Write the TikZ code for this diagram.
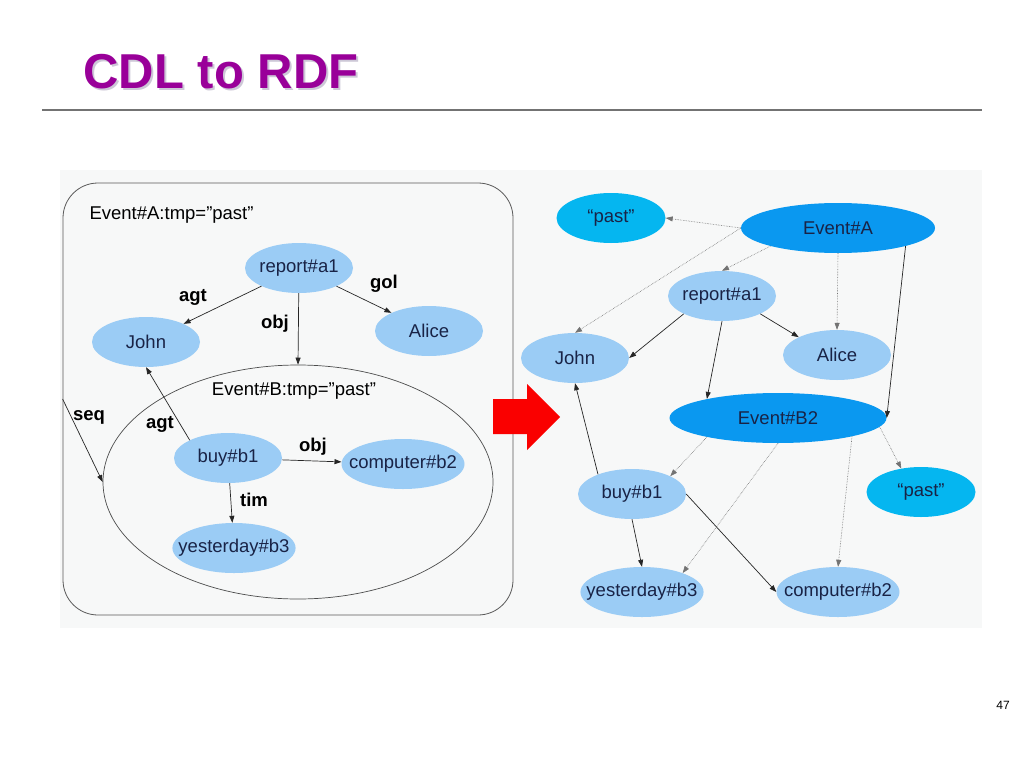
\documentclass[tikz,border=0pt]{standalone}
\usepackage{fontspec}
\setmainfont{Liberation Sans}
\usetikzlibrary{shapes.geometric,arrows.meta,positioning}
\definecolor{panelgray}{RGB}{247,248,248}
\definecolor{nodeblue}{RGB}{155,204,245}
\definecolor{eventblue}{RGB}{10,152,240}
\definecolor{pastcyan}{RGB}{5,182,240}
\definecolor{textnavy}{RGB}{25,35,70}
\definecolor{titlepurple}{RGB}{153,0,153}
\definecolor{shadowgray}{RGB}{205,200,215}
\definecolor{redarrow}{RGB}{250,0,0}

\begin{document}
\begin{tikzpicture}[
    x=1pt, y=-1pt,
    every node/.style={font=\fontsize{18.5}{22}\selectfont, text=textnavy},
    entity/.style={ellipse, fill=nodeblue, minimum width=108pt, minimum height=50pt, inner ysep=0pt, inner xsep=-3pt},
    wideentity/.style={entity, minimum width=123pt, inner xsep=-12pt},
    event/.style={ellipse, fill=eventblue, minimum height=50pt, inner sep=0pt},
    literal/.style={ellipse, fill=pastcyan, minimum width=109pt, minimum height=50pt, inner sep=0pt},
    lbl/.style={font=\bfseries\fontsize{18.5}{22}\selectfont, text=black},
    caption/.style={text=black},
    arrow/.style={-{Triangle[length=7pt,width=5pt]}, line width=0.7pt, black!85},
    dotarrow/.style={-{Triangle[length=7pt,width=5pt]}, densely dotted, line width=0.6pt, black!55}
]
\fill[white] (0,0) rectangle (1024,768);
\useasboundingbox (0,0) rectangle (1024,768);

% Title
\node[anchor=base west, font=\bfseries\fontsize{49}{56}\selectfont, text=shadowgray] (titleshadow) at (82,90) {CDL to RDF};
\node[anchor=base west, font=\bfseries\fontsize{49}{56}\selectfont, text=titlepurple] (title) at (80,88) {CDL to RDF};
\draw[black!55, line width=1.3pt] (42,110) -- (982,110);

% Panel
\fill[panelgray] (60,170) rectangle (982,628);

% CDL side
\node[draw=black!65, fill=panelgray, rounded corners=35pt, minimum width=450pt, minimum height=432pt, line width=0.8pt] (boxA) at (288,399) {};
\node[caption, anchor=west] (capA) at (86,215) {Event\#A:tmp=”past”};
\node[ellipse, draw=black!70, line width=0.7pt, minimum width=390pt, minimum height=234pt, inner sep=0pt] (eventB) at (298,482) {};
\node[caption] (capB) at (294,391) {Event\#B:tmp=”past”};

\node[entity] (reportL) at (299,268) {report\#a1};
\node[entity] (johnL) at (146,342) {John};
\node[entity] (aliceL) at (429,331) {Alice};
\node[entity] (buyL) at (228,458) {buy\#b1};
\node[wideentity] (computerL) at (403,464) {computer\#b2};
\node[wideentity] (yesterdayL) at (234,548) {yesterday\#b3};

\draw[arrow] (reportL) -- (johnL);
\draw[arrow] (reportL) -- (eventB.north);
\draw[arrow] (reportL) -- (aliceL);
\draw[arrow] (boxA.west) -- (eventB.west);
\draw[arrow] (buyL.155) -- (johnL.south);
\draw[arrow] (buyL) -- (computerL);
\draw[arrow] (buyL) -- (yesterdayL);

% Edge labels
\node[lbl] (agtA) at (193,297) {agt};
\node[lbl] (objA) at (275,324) {obj};
\node[lbl] (golA) at (384,284) {gol};
\node[lbl] (seqL) at (89,417) {seq};
\node[lbl] (agtB) at (160,424) {agt};
\node[lbl] (objB) at (313,447) {obj};
\node[lbl] (timB) at (254,500) {tim};

% RDF side
\node[literal] (pastA) at (611,218) {“past”};
\node[event, minimum width=194pt] (eventAR) at (838,228) {Event\#A};
\node[entity] (reportR) at (722,296) {report\#a1};
\node[entity] (johnR) at (575,358) {John};
\node[entity] (aliceR) at (837,355) {Alice};
\node[event, minimum width=217pt] (eventBR) at (778,418) {Event\#B2};
\node[literal] (pastB) at (921,492) {“past”};
\node[entity] (buyR) at (632,494) {buy\#b1};
\node[wideentity] (yesterdayR) at (642,592) {yesterday\#b3};
\node[wideentity] (computerR) at (838,592) {computer\#b2};

\draw[dotarrow] (eventAR.west) -- (pastA.east);
\draw[dotarrow] (eventAR.west) -- (johnR.north);
\draw[dotarrow] (eventAR.195) -- (reportR.north);
\draw[dotarrow] (eventAR.south) -- (aliceR.north);
\draw[arrow] (eventAR.-15) -- (eventBR.east);
\draw[arrow] (reportR.205) -- (johnR.east);
\draw[arrow] (reportR.-25) -- (aliceR.155);
\draw[arrow] (reportR.south) -- (eventBR.165);
\draw[dotarrow] (eventBR.195) -- (buyR.25);
\draw[dotarrow] (eventBR.south) -- (yesterdayR.25);
\draw[dotarrow] (eventBR.-14) -- (computerR.north);
\draw[dotarrow] (eventBR.-5) -- (pastB.130);
\draw[arrow] (buyR.150) -- (johnR.south);
\draw[arrow] (buyR.south) -- (yesterdayR.north);
\draw[arrow] (buyR.east) -- (computerR.west);

% Red arrow
\fill[redarrow] (493,399) -- (527,399) -- (527,384) -- (560,417) -- (527,450) -- (527,434) -- (493,434) -- cycle;

% Page number
\node[font=\fontsize{12}{14}\selectfont, text=black] (pagenum) at (1003,705) {47};
\end{tikzpicture}
\end{document}
